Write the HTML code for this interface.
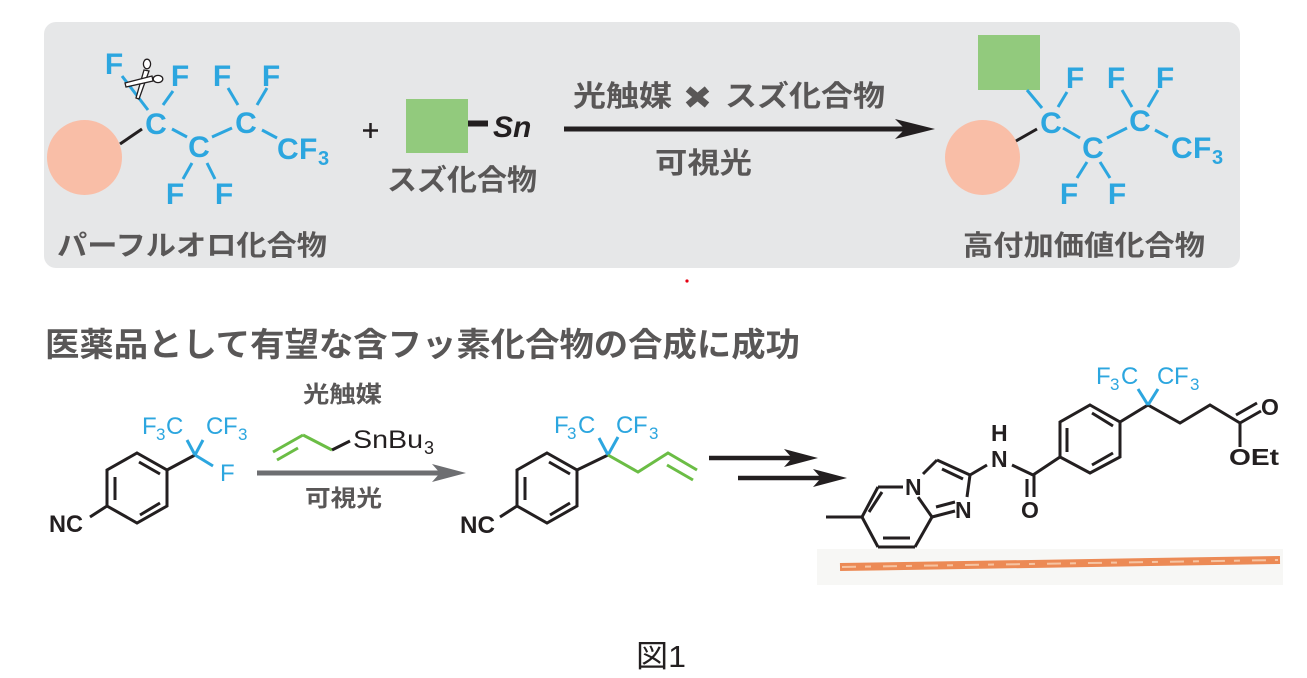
<!DOCTYPE html>
<html>
<head>
<meta charset="utf-8">
<style>
html,body{margin:0;padding:0;background:#fff;}
svg{display:block;}
.jp{font-family:"Liberation Sans","Noto Sans CJK JP",sans-serif;font-weight:700;fill:#595757;}
.bl{font-family:"Liberation Sans",sans-serif;font-weight:700;fill:#2ca6df;font-size:30px;}
.bs{font-family:"Liberation Sans",sans-serif;font-weight:400;fill:#2ca6df;font-size:24px;}
.bk{font-family:"Liberation Sans",sans-serif;font-weight:700;fill:#231f20;font-size:23px;}
</style>
</head>
<body>
<svg width="1307" height="678" viewBox="0 0 1307 678" xmlns="http://www.w3.org/2000/svg">
<!-- panel -->
<rect x="44" y="22" width="1196" height="246" rx="12" ry="12" fill="#e6e7e8"/>

<!-- ===== Left perfluoro compound ===== -->
<circle cx="84.5" cy="157.5" r="37.5" fill="#f9bea7"/>
<line x1="120" y1="144" x2="142" y2="129" stroke="#231f20" stroke-width="3"/>
<g stroke="#2ca6df" stroke-width="3" stroke-linecap="butt">
  <line x1="122" y1="76" x2="148" y2="110"/>
  <line x1="163" y1="105" x2="173" y2="91"/>
  <line x1="172" y1="129" x2="187" y2="137"/>
  <line x1="212" y1="137" x2="232" y2="128"/>
  <line x1="228" y1="88" x2="238" y2="105"/>
  <line x1="257" y1="105" x2="267" y2="88"/>
  <line x1="262" y1="130" x2="277" y2="138"/>
  <line x1="192" y1="163" x2="183" y2="179"/>
  <line x1="207" y1="163" x2="215" y2="179"/>
</g>
<text class="bl" x="114" y="74" text-anchor="middle">F</text>
<text class="bl" x="180" y="86" text-anchor="middle">F</text>
<text class="bl" x="222" y="86" text-anchor="middle">F</text>
<text class="bl" x="271" y="86" text-anchor="middle">F</text>
<text class="bl" x="156" y="134" text-anchor="middle">C</text>
<text class="bl" x="199" y="157" text-anchor="middle">C</text>
<text class="bl" x="246" y="133" text-anchor="middle">C</text>
<text class="bl" x="277" y="159">C</text>
<text class="bl" x="299" y="159">F</text>
<text class="bl" x="318" y="165" style="font-size:20px">3</text>
<text class="bl" x="175" y="204" text-anchor="middle">F</text>
<text class="bl" x="224" y="204" text-anchor="middle">F</text>
<!-- scissors -->
<g stroke="#231f20" stroke-width="1.3" fill="#fff">
  <polygon points="144,70 149,71 139,99 136,98"/>
  <polygon points="152,76 153,81 126,87 125,83"/>
  <ellipse cx="147" cy="64" rx="3.6" ry="4.8"/>
  <ellipse cx="158" cy="79" rx="4.8" ry="3.6"/>
</g>

<!-- plus -->
<line x1="363" y1="130.5" x2="378" y2="130.5" stroke="#231f20" stroke-width="2.5"/>
<line x1="370.5" y1="123" x2="370.5" y2="138" stroke="#231f20" stroke-width="2.5"/>

<!-- tin compound -->
<rect x="406" y="99" width="62" height="54" fill="#92ca7d"/>
<line x1="468" y1="123.5" x2="488" y2="123.5" stroke="#231f20" stroke-width="6"/>
<text x="493" y="137" style="font-family:'Liberation Sans',sans-serif;font-weight:700;font-style:italic;font-size:30px;fill:#231f20">Sn</text>
<text class="jp" x="387" y="190" font-size="29" textLength="150" lengthAdjust="spacingAndGlyphs">スズ化合物</text>
<text class="jp" x="57" y="255" font-size="28" textLength="270" lengthAdjust="spacingAndGlyphs">パーフルオロ化合物</text>

<!-- main arrow -->
<text class="jp" x="573" y="106" font-size="29" textLength="99" lengthAdjust="spacingAndGlyphs">光触媒</text>
<line x1="688" y1="89" x2="707" y2="105" stroke="#595757" stroke-width="7"/>
<line x1="707" y1="89" x2="688" y2="105" stroke="#595757" stroke-width="7"/>
<text class="jp" x="725" y="106" font-size="29" textLength="160" lengthAdjust="spacingAndGlyphs">スズ化合物</text>
<line x1="564" y1="129" x2="905" y2="129" stroke="#231f20" stroke-width="5"/>
<polygon points="935,129 895,119 905,129 895,139" fill="#231f20"/>
<text class="jp" x="655" y="173" font-size="29" textLength="97" lengthAdjust="spacingAndGlyphs">可視光</text>

<!-- ===== Right product ===== -->
<circle cx="982.5" cy="157.5" r="37.5" fill="#f9bea7"/>
<rect x="978" y="35" width="62" height="55" fill="#92ca7d"/>
<line x1="1016" y1="141" x2="1037" y2="129" stroke="#231f20" stroke-width="3"/>
<g stroke="#2ca6df" stroke-width="3">
  <line x1="1027" y1="90" x2="1042" y2="108"/>
  <line x1="1058" y1="107" x2="1067" y2="92"/>
  <line x1="1063" y1="128" x2="1080" y2="138"/>
  <line x1="1107" y1="138" x2="1127" y2="128"/>
  <line x1="1122" y1="90" x2="1132" y2="107"/>
  <line x1="1148" y1="107" x2="1158" y2="90"/>
  <line x1="1155" y1="130" x2="1168" y2="137"/>
  <line x1="1087" y1="162" x2="1077" y2="178"/>
  <line x1="1100" y1="162" x2="1110" y2="178"/>
</g>
<text class="bl" x="1075" y="88" text-anchor="middle">F</text>
<text class="bl" x="1116" y="88" text-anchor="middle">F</text>
<text class="bl" x="1165" y="88" text-anchor="middle">F</text>
<text class="bl" x="1051" y="133" text-anchor="middle">C</text>
<text class="bl" x="1093" y="158" text-anchor="middle">C</text>
<text class="bl" x="1140" y="131" text-anchor="middle">C</text>
<text class="bl" x="1171" y="158">C</text>
<text class="bl" x="1193" y="158">F</text>
<text class="bl" x="1212" y="164" style="font-size:20px">3</text>
<text class="bl" x="1069" y="204" text-anchor="middle">F</text>
<text class="bl" x="1117" y="204" text-anchor="middle">F</text>
<text class="jp" x="963" y="255" font-size="28" textLength="242" lengthAdjust="spacingAndGlyphs">高付加価値化合物</text>

<!-- red dot -->
<circle cx="687" cy="281" r="1.6" fill="#e60012"/>

<!-- heading -->
<text class="jp" x="45" y="356" font-size="33" textLength="755" lengthAdjust="spacingAndGlyphs">医薬品として有望な含フッ素化合物の合成に成功</text>

<!-- ===== Scheme 1 ===== -->
<g stroke="#231f20" stroke-width="3" fill="none" stroke-linejoin="miter">
  <polygon points="137,453 167,470 167,506 137,523 107,506 107,470"/>
  <line x1="115" y1="477" x2="115" y2="500"/>
  <line x1="139" y1="462" x2="160" y2="474"/>
  <line x1="140" y1="515" x2="160" y2="503"/>
  <line x1="90" y1="517" x2="107" y2="506"/>
  <line x1="167" y1="470" x2="195" y2="455"/>
</g>
<g stroke="#2ca6df" stroke-width="3">
  <line x1="195" y1="455" x2="187" y2="440"/>
  <line x1="195" y1="455" x2="203" y2="440"/>
  <line x1="195" y1="455" x2="213" y2="466"/>
</g>
<text class="bs" x="142" y="434">F</text>
<text class="bs" x="156" y="440" style="font-size:17px">3</text>
<text class="bs" x="166" y="434">C</text>
<text class="bs" x="206" y="434">C</text>
<text class="bs" x="223" y="434">F</text>
<text class="bs" x="238" y="440" style="font-size:17px">3</text>
<text class="bs" x="220" y="481">F</text>
<text class="bk" x="49" y="532" textLength="34" lengthAdjust="spacingAndGlyphs" style="font-size:24px">NC</text>

<!-- reagent -->
<text class="jp" x="303" y="402" font-size="23" textLength="79" lengthAdjust="spacingAndGlyphs">光触媒</text>
<g stroke="#6bbd45" stroke-width="3">
  <line x1="273" y1="452" x2="303" y2="435"/>
  <line x1="277" y1="460" x2="298" y2="448"/>
  <line x1="303" y1="435" x2="332" y2="450"/>
</g>
<line x1="332" y1="450" x2="350" y2="441" stroke="#231f20" stroke-width="3"/>
<text x="353" y="448" style="font-family:'Liberation Sans',sans-serif;font-size:25px;fill:#231f20" textLength="70" lengthAdjust="spacingAndGlyphs">SnBu</text>
<text x="424" y="454" style="font-family:'Liberation Sans',sans-serif;font-size:18px;fill:#231f20">3</text>
<line x1="257" y1="473" x2="440" y2="473" stroke="#6d6e71" stroke-width="5"/>
<polygon points="466,473 432,464 440,473 432,482" fill="#6d6e71"/>
<text class="jp" x="305" y="506" font-size="23" textLength="77" lengthAdjust="spacingAndGlyphs">可視光</text>

<!-- ===== Scheme 2 ===== -->
<g stroke="#231f20" stroke-width="3" fill="none">
  <polygon points="547,453 577,470 577,506 547,523 517,506 517,470"/>
  <line x1="525" y1="477" x2="525" y2="500"/>
  <line x1="549" y1="462" x2="570" y2="474"/>
  <line x1="550" y1="515" x2="570" y2="503"/>
  <line x1="500" y1="517" x2="517" y2="506"/>
  <line x1="577" y1="470" x2="608" y2="455"/>
</g>
<g stroke="#2ca6df" stroke-width="3">
  <line x1="608" y1="455" x2="599" y2="438"/>
  <line x1="608" y1="455" x2="618" y2="437"/>
</g>
<g stroke="#6bbd45" stroke-width="3" fill="none">
  <polyline points="608,455 638,472 668,453 697,470"/>
  <line x1="667" y1="465" x2="693" y2="480"/>
</g>
<text class="bs" x="554" y="433">F</text>
<text class="bs" x="567" y="439" style="font-size:17px">3</text>
<text class="bs" x="578" y="433">C</text>
<text class="bs" x="616" y="433">C</text>
<text class="bs" x="633" y="433">F</text>
<text class="bs" x="649" y="439" style="font-size:17px">3</text>
<text class="bk" x="460" y="533" textLength="35" lengthAdjust="spacingAndGlyphs" style="font-size:24px">NC</text>

<!-- double arrows -->
<line x1="709" y1="458" x2="792" y2="458" stroke="#231f20" stroke-width="4.5"/>
<polygon points="818,458 784,449 792,458 784,467" fill="#231f20"/>
<line x1="738" y1="478" x2="821" y2="478" stroke="#231f20" stroke-width="4.5"/>
<polygon points="847,478 813,469 821,478 813,487" fill="#231f20"/>

<!-- ===== Final molecule ===== -->
<g stroke="#231f20" stroke-width="3" fill="none" stroke-linejoin="miter">
  <line x1="826" y1="517" x2="862" y2="517"/>
  <line x1="862" y1="517" x2="878" y2="487"/>
  <line x1="878" y1="487" x2="903" y2="487"/>
  <line x1="918" y1="497" x2="932" y2="517"/>
  <line x1="932" y1="517" x2="915" y2="547"/>
  <line x1="915" y1="547" x2="878" y2="547"/>
  <line x1="878" y1="547" x2="862" y2="517"/>
  <line x1="869" y1="512" x2="882" y2="492"/>
  <line x1="883" y1="538" x2="910" y2="538"/>
  <line x1="923" y1="474" x2="937" y2="460"/>
  <line x1="937" y1="460" x2="970" y2="475"/>
  <line x1="942" y1="469" x2="963" y2="479"/>
  <line x1="970" y1="475" x2="967" y2="497"/>
  <line x1="932" y1="517" x2="955" y2="511"/>
  <line x1="936" y1="507" x2="955" y2="502"/>
  <line x1="970" y1="475" x2="987" y2="465"/>
  <line x1="1012" y1="465" x2="1033" y2="475"/>
  <line x1="1034" y1="475" x2="1034" y2="497"/>
  <line x1="1027" y1="479" x2="1027" y2="497"/>
  <line x1="1033" y1="475" x2="1060" y2="457"/>
  <polygon points="1090,405 1120,422 1120,457 1090,473 1060,457 1060,422"/>
  <line x1="1067" y1="428" x2="1067" y2="452"/>
  <line x1="1092" y1="413" x2="1113" y2="426"/>
  <line x1="1092" y1="465" x2="1113" y2="453"/>
  <line x1="1120" y1="422" x2="1148" y2="405"/>
  <polyline points="1148,405 1180,423 1210,405 1240,423"/>
  <line x1="1240" y1="423" x2="1261" y2="411"/>
  <line x1="1236" y1="415" x2="1257" y2="403"/>
  <line x1="1240" y1="423" x2="1240" y2="447"/>
</g>
<g stroke="#2ca6df" stroke-width="3">
  <line x1="1148" y1="405" x2="1138" y2="389"/>
  <line x1="1148" y1="405" x2="1158" y2="389"/>
</g>
<text class="bs" x="1096" y="384">F</text>
<text class="bs" x="1110" y="390" style="font-size:17px">3</text>
<text class="bs" x="1121" y="384">C</text>
<text class="bs" x="1157" y="384">C</text>
<text class="bs" x="1174" y="384">F</text>
<text class="bs" x="1190" y="390" style="font-size:17px">3</text>
<text class="bk" x="905" y="495">N</text>
<text class="bk" x="955" y="518">N</text>
<text class="bk" x="991" y="441">H</text>
<text class="bk" x="991" y="467">N</text>
<text class="bk" x="1021" y="518">O</text>
<text class="bk" x="1261" y="415">O</text>
<text class="bk" x="1229" y="465" textLength="50" lengthAdjust="spacingAndGlyphs">OEt</text>

<!-- orange scribble -->
<rect x="817" y="549" width="466" height="36" fill="#f7f7f5"/>
<line x1="840" y1="567" x2="1280" y2="560" stroke="#ec8a55" stroke-width="8"/>
<line x1="842" y1="567" x2="1278" y2="560" stroke="#f6c4a2" stroke-width="2" stroke-dasharray="14 9 6 12"/>

<!-- caption -->
<text x="636" y="667" style="font-family:'Liberation Sans','Noto Sans CJK JP',sans-serif;font-size:31px;fill:#231f20" textLength="50" lengthAdjust="spacingAndGlyphs">図1</text>
</svg>
</body>
</html>
